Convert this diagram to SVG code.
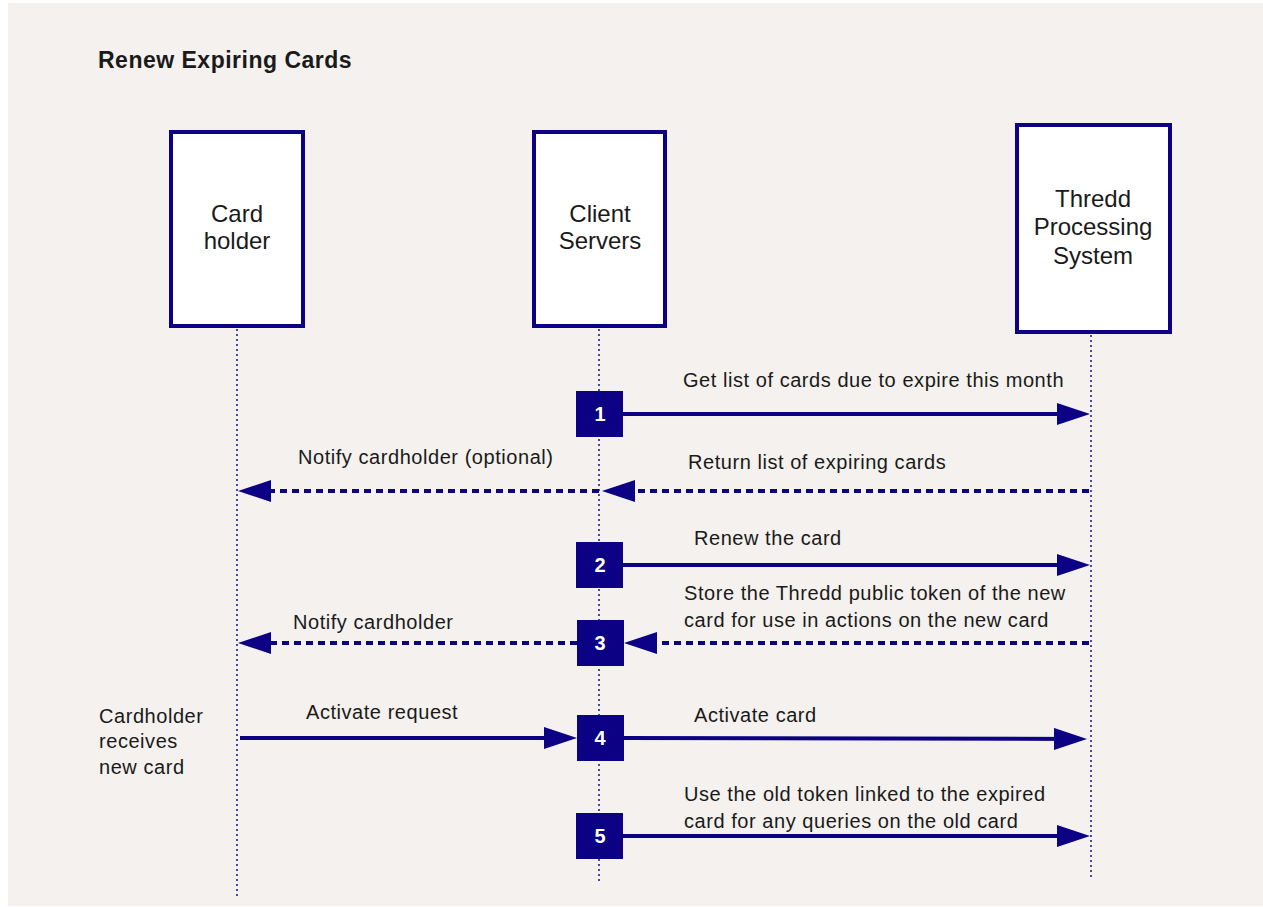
<svg xmlns="http://www.w3.org/2000/svg" width="1263" height="907" viewBox="0 0 1263 907">
<defs>
<style>
.bg{fill:#f4f1ee}
.actor{fill:#ffffff;stroke:#0c0084;stroke-width:4}
.life{stroke:#4a4aa6;stroke-width:2;stroke-dasharray:2 3;fill:none}
.step{fill:#0c0084}
.num{font-family:"Liberation Sans",Arial,sans-serif;font-size:20px;font-weight:bold;fill:#ffffff;text-anchor:middle}
.msg{stroke:#0c0084;stroke-width:4;fill:none}
.dash{stroke-dasharray:7 5}
.lbl{font-family:"Liberation Sans",Arial,sans-serif;font-size:20px;letter-spacing:0.55px;fill:#1a1a1a}
.name{font-family:"Liberation Sans",Arial,sans-serif;font-size:24px;fill:#1a1a1a;text-anchor:middle}
.title{font-family:"Liberation Sans",Arial,sans-serif;font-size:23px;letter-spacing:0.5px;font-weight:bold;fill:#1a1a1a}
</style>
<marker id="ah" markerUnits="userSpaceOnUse" markerWidth="34" markerHeight="24" refX="27" refY="11" orient="auto">
<path d="M0,0 L33,11 L0,22 z" fill="#0c0084"/>
</marker>
</defs>
<rect class="bg" x="8" y="3" width="1255" height="903"/>
<text class="title" x="98" y="68">Renew Expiring Cards</text>

<g id="lifelines">
<line class="life" x1="237" y1="329" x2="237" y2="896"/>
<line class="life" x1="599" y1="329" x2="599" y2="882"/>
<line class="life" x1="1091" y1="335" x2="1091" y2="880"/>
</g>

<g id="cardholder">
<rect class="actor" x="171" y="132" width="132" height="194"/>
<text class="name" x="237" y="222">Card</text>
<text class="name" x="237" y="249">holder</text>
</g>
<g id="client-servers">
<rect class="actor" x="534" y="132" width="131" height="194"/>
<text class="name" x="600" y="222">Client</text>
<text class="name" x="600" y="249">Servers</text>
</g>
<g id="thredd">
<rect class="actor" x="1017" y="125" width="153" height="207"/>
<text class="name" x="1093" y="207">Thredd</text>
<text class="name" x="1093" y="235">Processing</text>
<text class="name" x="1093" y="264">System</text>
</g>

<g id="connectors">
<line class="msg" x1="623" y1="414" x2="1084" y2="414" marker-end="url(#ah)"/>
<line class="msg dash" x1="1089" y1="491" x2="608" y2="491" marker-end="url(#ah)"/>
<line class="msg dash" x1="599" y1="491" x2="244" y2="491" marker-end="url(#ah)"/>
<line class="msg" x1="623" y1="565" x2="1084" y2="565" marker-end="url(#ah)"/>
<line class="msg dash" x1="1089" y1="643" x2="630" y2="643" marker-end="url(#ah)"/>
<line class="msg dash" x1="577" y1="643" x2="244" y2="643" marker-end="url(#ah)"/>
<line class="msg" x1="240" y1="738" x2="571" y2="738" marker-end="url(#ah)"/>
<line class="msg" x1="624" y1="738" x2="1081" y2="739" marker-end="url(#ah)"/>
<line class="msg" x1="623" y1="836" x2="1084" y2="836" marker-end="url(#ah)"/>
</g>

<g id="step1"><rect class="step" x="576" y="391" width="47" height="46"/><text class="num" x="600" y="421">1</text></g>
<g id="step2"><rect class="step" x="576" y="542" width="47" height="46"/><text class="num" x="600" y="572">2</text></g>
<g id="step3"><rect class="step" x="577" y="620" width="47" height="46"/><text class="num" x="600" y="650">3</text></g>
<g id="step4"><rect class="step" x="577" y="715" width="47" height="46"/><text class="num" x="600" y="745">4</text></g>
<g id="step5"><rect class="step" x="576" y="813" width="47" height="46"/><text class="num" x="600" y="843">5</text></g>

<g id="labels">
<text class="lbl" x="683" y="387">Get list of cards due to expire this month</text>
<text class="lbl" x="688" y="469">Return list of expiring cards</text>
<text class="lbl" x="298" y="464">Notify cardholder (optional)</text>
<text class="lbl" x="694" y="545">Renew the card</text>
<text class="lbl" x="684" y="600">Store the Thredd public token of the new</text>
<text class="lbl" x="684" y="627">card for use in actions on the new card</text>
<text class="lbl" x="293" y="629">Notify cardholder</text>
<text class="lbl" x="99" y="723">Cardholder</text>
<text class="lbl" x="99" y="748">receives</text>
<text class="lbl" x="99" y="774">new card</text>
<text class="lbl" x="306" y="719">Activate request</text>
<text class="lbl" x="694" y="722">Activate card</text>
<text class="lbl" x="684" y="801">Use the old token linked to the expired</text>
<text class="lbl" x="684" y="828">card for any queries on the old card</text>
</g>
</svg>
